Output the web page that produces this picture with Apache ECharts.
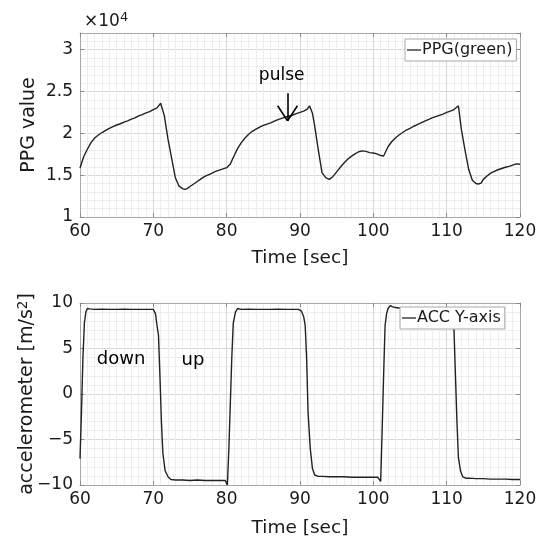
<!DOCTYPE html>
<html>
<head>
<meta charset="utf-8">
<script src="https://cdn.jsdelivr.net/npm/echarts@6/dist/echarts.min.js"></script>
<style>
html,body{margin:0;padding:0;background:#fff;}
#chart{width:543px;height:545px;}
</style>
</head>
<body>
<div id="chart"></div>
<script>
// ---------- DATA ----------
const xTicks = [60, 70, 80, 90, 100, 110, 120];
const ppgTicks = [1, 1.5, 2, 2.5, 3];           // ×10^4
const accTicks = [-10, -5, 0, 5, 10];

const ppgTime = [60,60.5,61,61.5,62,62.5,63,63.5,64,64.5,65,65.5,66,66.5,67,67.5,68,68.5,69,69.5,70,70.5,71,71.5,72,72.5,73,73.5,74,74.3,74.6,75,75.5,76,76.5,77,77.5,78,78.5,79,79.5,80,80.5,81,81.5,82,82.5,83,83.5,84,84.5,85,85.5,86,86.5,87,87.5,88,88.5,89,89.5,90,90.5,91,91.3,91.7,92,92.5,93,93.5,94,94.5,95,95.5,96,96.5,97,97.5,98,98.5,99,99.5,100,100.5,101,101.4,102,102.5,103,103.5,104,104.5,105,105.5,106,106.5,107,107.5,108,108.5,109,109.5,110,110.5,111,111.6,112,112.5,113,113.5,114,114.3,114.7,115,115.5,116,116.5,117,117.5,118,118.5,119,119.5,120];
const ppgValue = [15850,17200,18100,18900,19450,19800,20100,20350,20600,20800,21000,21150,21350,21500,21700,21850,22100,22250,22450,22600,22850,23050,23600,22100,19300,17000,14700,13700,13400,13300,13400,13650,13950,14250,14550,14850,15050,15250,15450,15600,15750,15900,16350,17300,18200,18900,19450,19900,20250,20500,20750,20950,21100,21250,21450,21650,21800,21950,22050,22200,22350,22500,22650,22900,23300,22400,20900,18000,15300,14700,14500,14850,15400,15950,16450,16900,17250,17550,17800,17900,17850,17700,17650,17550,17350,17300,18400,19000,19450,19800,20100,20400,20600,20850,21050,21250,21450,21650,21850,22000,22150,22300,22500,22650,22850,23300,20500,18000,15700,14400,14000,13950,14050,14500,14900,15250,15450,15650,15800,15950,16050,16200,16350,16300];

const accTime = [60,60.2,60.4,60.6,60.8,61,61.3,62,63,64,65,66,67,68,69,70,70.3,70.5,70.7,70.9,71.1,71.3,71.6,72,72.4,73,74,75,76,77,78,79,79.8,80.1,80.3,80.5,80.7,80.9,81.2,81.5,82,83,84,85,86,87,88,89,89.8,90.2,90.5,90.7,90.9,91.1,91.4,91.7,92,92.5,93,94,95,96,97,98,99,100,100.6,100.8,101,101.2,101.4,101.6,101.8,102,102.3,102.6,103,104,105,106,107,108,109,110,110.8,111,111.2,111.4,111.6,111.9,112.2,112.6,113,114,115,116,117,118,119,120];
const accValue = [-7.1,-2.0,4.0,7.8,9.0,9.4,9.35,9.3,9.32,9.3,9.3,9.32,9.3,9.3,9.3,9.3,8.8,7.5,6.5,2.0,-3.0,-6.5,-8.4,-9.1,-9.4,-9.45,-9.45,-9.5,-9.45,-9.5,-9.5,-9.5,-9.5,-10.0,-6.0,-1.0,4.0,7.8,9.0,9.4,9.3,9.32,9.3,9.3,9.3,9.32,9.3,9.3,9.3,9.1,8.5,7.6,4.0,-2.0,-6.0,-8.2,-8.9,-9.05,-9.05,-9.1,-9.1,-9.1,-9.15,-9.15,-9.15,-9.15,-9.15,-9.3,-9.6,-4.0,2.0,7.5,8.8,9.4,9.7,9.6,9.5,9.4,9.4,9.4,9.4,9.4,9.4,9.3,9.3,7.0,2.0,-3.0,-7.0,-8.5,-9.1,-9.25,-9.25,-9.3,-9.3,-9.35,-9.35,-9.35,-9.4,-9.4];

const ppgName = 'PPG(green)';
const accName = 'ACC Y-axis';
// arrow: shaft top, tip, and the two head-arm ends (data coords)
const pulseShaftTop = [88.3, 24800];
const pulseTip = [88.3, 21500];
const pulseArmL = [86.95, 23300];
const pulseArmR = [89.65, 23300];
const pulseLabel = [87.5, 26900];
const downLabel = [65.6, 3.8];
const upLabel = [75.4, 3.7];

// ---------- CHART ----------
const FONT = 'DejaVu Sans';
const TXT = '#1a1a1a';
const BORDER = '#a8a8a8';
const MAJOR = '#d8d8d8';
const MINOR = '#eeeeee';

function xAx(grid, pos, main) {
  return {
    type: 'value', gridIndex: grid, position: pos, min: xTicks[0], max: xTicks[xTicks.length - 1], interval: 10,
    name: main ? 'Time [sec]' : '', nameLocation: 'middle', nameGap: grid === 0 ? 32 : 34,
    nameTextStyle: {fontFamily: FONT, fontSize: 18.5, color: TXT},
    axisLine: {show: true, onZero: false, lineStyle: {color: BORDER, width: 1}},
    axisTick: {show: true, inside: true, length: 4, lineStyle: {color: '#888'}},
    axisLabel: {show: main, fontFamily: FONT, fontSize: 17, color: TXT, margin: 6},
    splitLine: {show: main, lineStyle: {color: MAJOR, width: 1}},
    minorTick: {show: false, splitNumber: 10},
    minorSplitLine: {show: main, lineStyle: {color: MINOR, width: 1}}
  };
}
function yAx(grid, pos, main, o) {
  return Object.assign({
    type: 'value', gridIndex: grid, position: pos,
    nameLocation: 'middle', nameMoveOverlap: false,
    nameTextStyle: {fontFamily: FONT, fontSize: 18.5, color: TXT},
    axisLine: {show: true, onZero: false, lineStyle: {color: BORDER, width: 1}},
    axisTick: {show: true, inside: true, length: 4, lineStyle: {color: '#888'}},
    axisLabel: {show: main, fontFamily: FONT, fontSize: 17, color: TXT, margin: 7},
    splitLine: {show: main, lineStyle: {color: MAJOR, width: 1}},
    minorSplitLine: {show: main, lineStyle: {color: MINOR, width: 1}}
  }, o);
}

const ppgTickSet = ppgTicks.map(v => v * 10000);

const option = {
  animation: false,
  backgroundColor: '#fff',
  title: {
    text: '×10{s|4}', left: 79, top: 6,
    textStyle: {fontFamily: FONT, fontSize: 17, fontWeight: 'normal', color: TXT,
      rich: {s: {fontFamily: FONT, fontSize: 13, color: TXT, verticalAlign: 'top', padding: [0, 0, 9, 0]}}}
  },
  grid: [
    {left: 80, top: 33, width: 440, height: 184, show: false, containLabel: false, outerBoundsMode: 'none'},
    {left: 80, top: 303, width: 440, height: 182, show: false, containLabel: false, outerBoundsMode: 'none'}
  ],
  legend: [
    {data: [ppgName], left: 405, top: 39, orient: 'vertical', icon: 'rect', itemWidth: 14, itemHeight: 1.3,
     itemGap: 0, padding: [3, 4, 3, 2], borderColor: BORDER, borderWidth: 1, backgroundColor: '#fff',
     textStyle: {fontFamily: FONT, fontSize: 16, color: TXT, padding: [0, 0, 0, -4]}},
    {data: [accName], left: 400, top: 307, orient: 'vertical', icon: 'rect', itemWidth: 14, itemHeight: 1.3,
     itemGap: 0, padding: [3, 4, 3, 2], borderColor: BORDER, borderWidth: 1, backgroundColor: '#fff',
     textStyle: {fontFamily: FONT, fontSize: 16, color: TXT, padding: [0, 0, 0, -4]}}
  ],
  xAxis: [xAx(0, 'bottom', true), xAx(0, 'top', false), xAx(1, 'bottom', true), xAx(1, 'top', false)],
  yAxis: [
    yAx(0, 'left', true, {min: 10000, max: 32000, interval: 5000, name: 'PPG value', nameGap: 41,
      nameTextStyle: {fontFamily: FONT, fontSize: 19, color: TXT},
      minorTick: {show: false, splitNumber: 5},
      axisLabel: {show: true, fontFamily: FONT, fontSize: 17, color: TXT, margin: 7, showMaxLabel: false,
        formatter: v => (ppgTickSet.indexOf(v) >= 0 ? String(v / 10000) : '')}}),
    yAx(0, 'right', false, {min: 10000, max: 32000, interval: 5000}),
    yAx(1, 'left', true, {min: accTicks[0], max: accTicks[accTicks.length - 1], interval: 5,
      name: 'accelerometer [m/s{s|2}]', nameGap: 41,
      nameTextStyle: {fontFamily: FONT, fontSize: 19, color: TXT,
        rich: {s: {fontFamily: FONT, fontSize: 13.5, color: TXT, verticalAlign: 'top', padding: [0, 0, 9, 0]}}},
      axisLabel: {show: true, fontFamily: FONT, fontSize: 17, color: TXT, margin: 7,
        formatter: v => String(v).replace('-', '\u2212')},
      minorTick: {show: false, splitNumber: 5}}),
    yAx(1, 'right', false, {min: -10, max: 10, interval: 5})
  ],
  series: [
    {
      name: ppgName, type: 'line', xAxisIndex: 0, yAxisIndex: 0, showSymbol: false, symbol: 'none',
      lineStyle: {color: '#222', width: 1.4}, itemStyle: {color: '#222'},
      data: ppgTime.map((t, i) => [t, ppgValue[i]]),
      markLine: {
        silent: true, symbol: ['none', 'none'],
        label: {show: false},
        lineStyle: {color: '#000', width: 1.6, type: 'solid'},
        data: [
          [{coord: pulseShaftTop}, {coord: pulseTip}],
          [{coord: pulseArmL}, {coord: pulseTip}],
          [{coord: pulseArmR}, {coord: pulseTip}]
        ]
      },
      markPoint: {
        silent: true, symbol: 'circle', symbolSize: 0,
        label: {show: true, position: 'inside', fontFamily: FONT, fontSize: 17, color: '#000', formatter: '{b}'},
        data: [{name: 'pulse', coord: pulseLabel}]
      }
    },
    {
      name: accName, type: 'line', xAxisIndex: 2, yAxisIndex: 2, showSymbol: false, symbol: 'none',
      lineStyle: {color: '#222', width: 1.4}, itemStyle: {color: '#222'},
      data: accTime.map((t, i) => [t, accValue[i]]),
      markPoint: {
        silent: true, symbol: 'circle', symbolSize: 0,
        label: {show: true, position: 'inside', fontFamily: FONT, fontSize: 18, color: '#000', formatter: '{b}'},
        data: [{name: 'down', coord: downLabel}, {name: 'up', coord: upLabel}]
      }
    }
  ]
};

const chart = echarts.init(document.getElementById('chart'), null, {renderer: 'canvas'});
chart.setOption(option);
</script>
</body>
</html>
